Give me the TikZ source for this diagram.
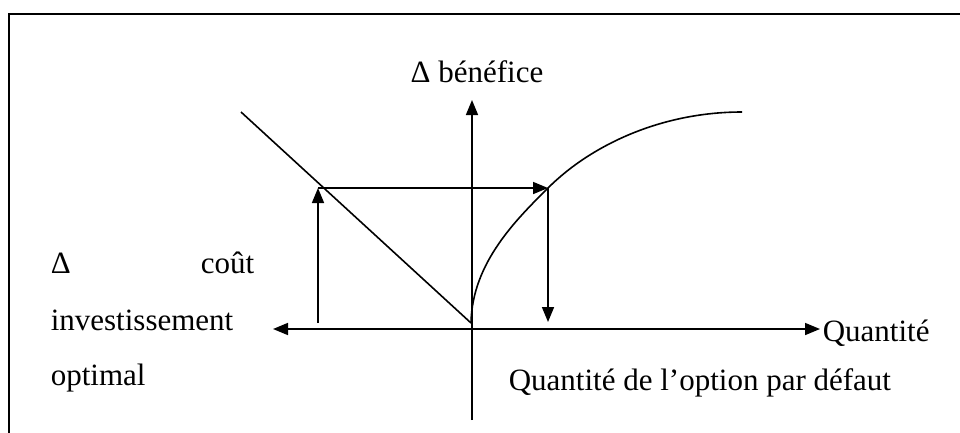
\documentclass[tikz,border=0pt]{standalone}
\usepackage{fontspec}
\setmainfont{Liberation Serif}
\usetikzlibrary{arrows.meta}
\begin{document}
\begin{tikzpicture}[x=1pt,y=-1pt,line width=1.6pt,
  arr/.style={-{Triangle[length=15pt,width=12pt]}},
  lbl/.style={inner sep=0pt,font=\fontsize{31}{37}\selectfont}]
\useasboundingbox (0,0) rectangle (960,432);
% frame
\draw[line width=2.2pt] (9,445) -- (9,14) -- (975,14);
% coordinates
\coordinate (xl) at (273,329);
\coordinate (xr) at (820,329);
\coordinate (yb) at (472,420);
\coordinate (yt) at (472,100);
\coordinate (K) at (471,323);
\coordinate (D) at (241,112);
\coordinate (A) at (318,188);
\coordinate (A0) at (318,323);
\coordinate (P) at (548,188);
\coordinate (P0) at (548,322);
\coordinate (E) at (742,112);
% axes
\draw[arr] (yb) -- (yt);
\draw[arr] (K|-xl) -- (xl);
\draw[arr] (K|-xl) -- (xr);
% diagonal
\draw (D) -- (K);
% curve
\draw (K) .. controls (472,262) and (518,218) .. (P)
          .. controls (590,146) and (660,112) .. (E);
% arrows
\draw[arr] (A0) -- (A);
\draw[arr] (A) -- (P);
\draw[arr] (P) -- (P0);
% labels
\node[lbl,anchor=base] (tben) at (477,82) {Δ bénéfice};
\node[lbl,anchor=base west] (tquant) at (822,341) {Quantité};
\node[lbl,anchor=base west] (tqdef) at (508,390) {Quantité de l’option par défaut};
\node[lbl,anchor=base west] (tdelta) at (50,273) {Δ};
\node[lbl,anchor=base east] (tcout) at (255,273) {coût};
\node[lbl,anchor=base west] (tinv) at (50,330) {investissement};
\node[lbl,anchor=base west] (topt) at (50,385) {optimal};
\end{tikzpicture}
\end{document}
